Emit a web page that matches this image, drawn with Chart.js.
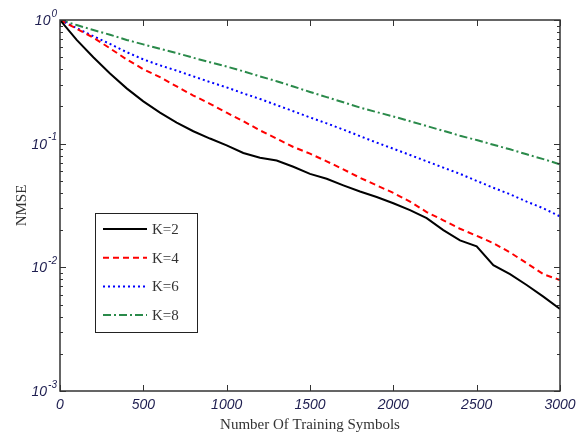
<!DOCTYPE html>
<html>
<head>
<meta charset="utf-8">
<script src="https://cdn.jsdelivr.net/npm/chart.js@4.4.0/dist/chart.umd.min.js"></script>
<style>
  html, body { margin: 0; padding: 0; background: #fff; }
</style>
</head>
<body>
<canvas id="chart-1" width="584" height="438"></canvas>
<script>
// training symbols (x axis)
const symbols = [0, 100, 200, 300, 400, 500, 600, 700, 800, 900, 1000,
  1100, 1200, 1300, 1400, 1500, 1600, 1700, 1800, 1900, 2000,
  2100, 2200, 2300, 2400, 2500, 2600, 2700, 2800, 2900, 3000];

// NMSE
const nmseK2 = [1.0, 0.69, 0.5, 0.37, 0.28, 0.22, 0.178, 0.148, 0.126, 0.11, 0.097,
  0.084, 0.077, 0.073, 0.065, 0.057, 0.052, 0.046, 0.041, 0.037, 0.033,
  0.029, 0.025, 0.020, 0.0165, 0.0148, 0.0104, 0.0088, 0.0072, 0.0058, 0.0046];
const nmseK4 = [1.0, 0.85, 0.72, 0.59, 0.48, 0.40, 0.345, 0.29, 0.245, 0.21, 0.178,
  0.152, 0.128, 0.11, 0.094, 0.083, 0.072, 0.062, 0.053, 0.046, 0.040,
  0.034, 0.028, 0.024, 0.0205, 0.018, 0.0157, 0.0132, 0.0108, 0.0088, 0.0079];
const nmseK6 = [1.0, 0.86, 0.74, 0.64, 0.55, 0.48, 0.43, 0.39, 0.35, 0.315, 0.285,
  0.255, 0.23, 0.205, 0.183, 0.163, 0.146, 0.13, 0.115, 0.102, 0.091,
  0.081, 0.072, 0.064, 0.057, 0.050, 0.044, 0.039, 0.034, 0.030, 0.0258];
const nmseK8 = [1.0, 0.91, 0.83, 0.76, 0.69, 0.635, 0.585, 0.54, 0.495, 0.455, 0.42,
  0.385, 0.35, 0.32, 0.29, 0.262, 0.238, 0.216, 0.196, 0.18, 0.166,
  0.152, 0.139, 0.127, 0.116, 0.107, 0.098, 0.09, 0.082, 0.075, 0.068];

const labels = ["K=2", "K=4", "K=6", "K=8"];
const xTicks = [0, 500, 1000, 1500, 2000, 2500, 3000];
const yDecades = [-3, -2, -1, 0];

const pts = (vals) => symbols.map((s, i) => ({ x: s, y: vals[i] }));

const data_1 = {
  datasets: [
    { label: labels[0], data: pts(nmseK2), borderColor: "#000000", borderWidth: 2, borderDash: [] },
    { label: labels[1], data: pts(nmseK4), borderColor: "#ff0000", borderWidth: 2, borderDash: [6, 4] },
    { label: labels[2], data: pts(nmseK6), borderColor: "#0000ff", borderWidth: 2, borderDash: [2, 3] },
    { label: labels[3], data: pts(nmseK8), borderColor: "#2a8a4a", borderWidth: 2, borderDash: [8, 3, 2, 3] },
  ],
};

const frameTicks = {
  id: "frameTicks",
  afterDraw(chart) {
    const { ctx, chartArea: a, scales: { x, y } } = chart;
    ctx.save();
    ctx.strokeStyle = "#333";
    ctx.lineWidth = 1;
    ctx.setLineDash([]);
    const seg = (x1, y1, x2, y2) => {
      ctx.beginPath(); ctx.moveTo(x1, y1); ctx.lineTo(x2, y2); ctx.stroke();
    };
    // x ticks, top and bottom
    x.ticks.forEach((t) => {
      const px = Math.round(x.getPixelForValue(t.value)) + 0.5;
      seg(px, a.bottom, px, a.bottom - 6);
      seg(px, a.top, px, a.top + 6);
    });
    // y ticks (major + minor), left and right
    yDecades.forEach((d) => {
      for (let m = 1; m < 10; m++) {
        const v = m * Math.pow(10, d);
        if (v > y.max) break;
        const py = Math.round(y.getPixelForValue(v)) + 0.5;
        const len = m === 1 ? 6 : 3;
        seg(a.left, py, a.left + len, py);
        seg(a.right, py, a.right - len, py);
      }
    });
    // frame
    ctx.lineWidth = 1.5;
    ctx.strokeRect(a.left, a.top, a.right - a.left, a.bottom - a.top);

    // y labels 10^d
    ctx.fillStyle = "#1e1e50";
    ctx.textBaseline = "middle";
    yDecades.forEach((d) => {
      const py = y.getPixelForValue(Math.pow(10, d));
      const exp = String(d);
      ctx.font = "italic 10px 'Liberation Sans', Arial, sans-serif";
      ctx.textAlign = "right";
      const ew = ctx.measureText(exp).width;
      ctx.fillText(exp, a.left - 3, py - 6);
      ctx.font = "italic 14px 'Liberation Sans', Arial, sans-serif";
      ctx.fillText("10", a.left - 4 - ew, py + 1);
    });

    // legend
    const bx = 95, by = 213, bw = 102, bh = 119;
    ctx.fillStyle = "#fff";
    ctx.fillRect(bx, by, bw, bh);
    ctx.lineWidth = 1;
    ctx.strokeStyle = "#222";
    ctx.strokeRect(bx + 0.5, by + 0.5, bw, bh);
    ctx.font = "15px 'Liberation Serif', 'DejaVu Serif', serif";
    ctx.textAlign = "left";
    chart.data.datasets.forEach((ds, i) => {
      const ly = by + 16 + i * 28.7;
      ctx.strokeStyle = ds.borderColor;
      ctx.lineWidth = ds.borderWidth;
      ctx.setLineDash(ds.borderDash);
      seg(103, ly, 147, ly);
      ctx.setLineDash([]);
      ctx.fillStyle = "#333";
      ctx.fillText(ds.label, 152, ly + 1);
    });
    ctx.restore();
  },
};

new Chart(document.getElementById("chart-1"), {
  type: "line",
  data: data_1,
  options: {
    responsive: false,
    animation: false,
    layout: { padding: { left: 0, right: 24, top: 20, bottom: 0 } },
    elements: {
      point: { radius: 0 },
      line: { tension: 0, fill: false },
    },
    plugins: {
      legend: { display: false },
      tooltip: { enabled: false },
    },
    scales: {
      x: {
        type: "linear",
        min: 0,
        max: 3000,
        afterBuildTicks: (s) => { s.ticks = xTicks.map((v) => ({ value: v })); },
        afterFit: (s) => { s.height = 47; },
        grid: { display: false, drawTicks: false },
        border: { display: false },
        ticks: {
          padding: 6,
          color: "#1e1e50",
          font: { family: "'Liberation Sans', Arial, sans-serif", size: 14, style: "italic" },
          callback: (v) => String(v),
        },
        title: {
          display: true,
          text: "Number Of Training Symbols",
          color: "#333",
          padding: { top: 0, bottom: 4 },
          font: { family: "'Liberation Serif', 'DejaVu Serif', serif", size: 15 },
        },
      },
      y: {
        type: "logarithmic",
        min: 0.001,
        max: 1,
        afterFit: (s) => { s.width = 60; },
        grid: { display: false, drawTicks: false },
        border: { display: false },
        ticks: { display: false },
        title: {
          display: true,
          text: "NMSE",
          color: "#333",
          padding: { top: 13, bottom: 0 },
          font: { family: "'Liberation Serif', 'DejaVu Serif', serif", size: 15 },
        },
      },
    },
  },
  plugins: [frameTicks],
});
</script>
</body>
</html>
